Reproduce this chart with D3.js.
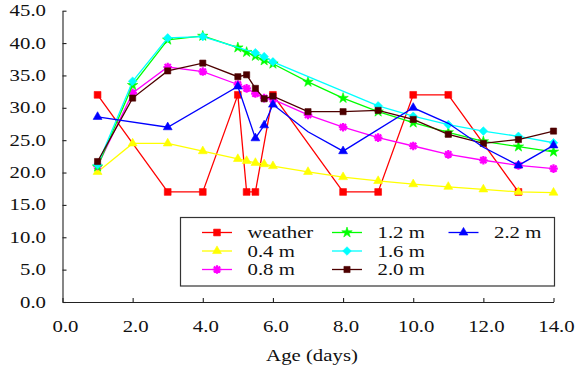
<!DOCTYPE html>
<html><head><meta charset="utf-8">
<script src="https://cdn.jsdelivr.net/npm/d3@7"></script>
<style>html,body{margin:0;padding:0;background:#fff;}svg{display:block;}</style>
</head><body>
<svg id="chart" width="579" height="371"></svg>
<script>
// ---- data ----
const xTicks = [0, 2, 4, 6, 8, 10, 12, 14];
const yTicks = [0, 5, 10, 15, 20, 25, 30, 35, 40, 45];
const xTitle = "Age (days)";
const days = [1, 2, 3, 4, 5, 5.25, 5.5, 5.75, 6, 7, 8, 9, 10, 11, 12, 13, 14];

const weatherX = [1, 3, 4, 5, 5.25, 5.5, 6, 8, 9, 10, 11, 13];
const weatherY = [32, 17, 17, 32, 17, 17, 32, 17, 17, 32, 32, 17];
const m04Y = [20.1, 24.5, 24.5, 23.3, 22.1, 21.8, 21.5, 21.3, 21.0, 20.1, 19.3, 18.7, 18.2, 17.8, 17.4, 17.0, 16.9];
const m08Y = [21.0, 32.3, 36.3, 35.6, 33.6, 33.0, 32.2, 31.5, 31.3, 28.9, 27.0, 25.4, 24.1, 22.8, 21.9, 21.1, 20.6];
const m12Y = [20.9, 33.5, 40.5, 41.1, 39.3, 38.6, 38.0, 37.3, 36.8, 34.0, 31.5, 29.4, 27.7, 26.2, 24.8, 24.0, 23.2];
const m16X = [1, 2, 3, 4, 5.5, 5.75, 6, 9, 10, 11, 12, 13, 14];
const m16Y = [21.2, 34.1, 40.8, 41.0, 38.5, 37.9, 37.1, 30.3, 28.7, 27.4, 26.4, 25.6, 24.6];
const m20Y = [21.7, 31.5, 35.7, 36.9, 34.8, 35.1, 33.0, 31.4, 31.8, 29.4, 29.4, 29.6, 28.2, 25.9, 24.5, 25.1, 26.4];
const m22X = [1, 3, 5, 5.5, 5.75, 6, 7, 8, 10, 11, 12, 13, 14];
const m22Y = [28.6, 27.0, 33.3, 25.3, 27.3, 30.5, 26.3, 23.3, 30.0, 27.6, 23.9, 21.1, 24.2];
const m22NoMarker = [7, 11, 12];

const seriesNames = ["weather", "0.4 m", "0.8 m", "1.2 m", "1.6 m", "2.0 m", "2.2 m"];
const seriesColors = ["#ff0000", "#ffff00", "#ff00ff", "#00ff00", "#00ffff", "#4d0000", "#0000ff"];
const seriesMarkers = ["square", "triangle", "asterisk", "star", "diamond", "squareSmall", "triangle"];

const series = [
  {x: weatherX, y: weatherY, skip: []},
  {x: days, y: m04Y, skip: []},
  {x: days, y: m08Y, skip: []},
  {x: days, y: m12Y, skip: []},
  {x: m16X, y: m16Y, skip: []},
  {x: days, y: m20Y, skip: []},
  {x: m22X, y: m22Y, skip: m22NoMarker}
].map((s, i) => ({
  name: seriesNames[i], color: seriesColors[i], marker: seriesMarkers[i],
  points: s.x.map((d, j) => ({x: d, y: s.y[j], mark: !s.skip.includes(d)}))
}));

// ---- drawing ----
const svg = d3.select("#chart");
const x = d3.scaleLinear().domain([0, 14]).range([62.5, 553.5]);
const y = d3.scaleLinear().domain([0, 45]).range([302, 10.7]);
const FONT = "'Liberation Serif', 'Times New Roman', serif";
const SX = 1.3;

function markerPath(type) {
  switch (type) {
    case "square": return d3.symbol(d3.symbolSquare, 46)();
    case "squareSmall": return d3.symbol(d3.symbolSquare, 38)();
    case "triangle": return d3.symbol(d3.symbolTriangle, 34)();
    case "star": return d3.symbol(d3.symbolStar, 34)();
    case "diamond": { const s = 4.3; return `M0,${-s}L${s},0L0,${s}L${-s},0Z`; }
    case "asterisk": { const r = 4.3, q = r * 0.72;
      return `M0,${-r}L0,${r}M${-r},0L${r},0M${-q},${-q}L${q},${q}M${-q},${q}L${q},${-q}`; }
  }
}
function drawMarker(g, type, color, cx, cy) {
  const p = g.append("path").attr("d", markerPath(type))
    .attr("transform", `translate(${cx},${cy})`);
  if (type === "asterisk") p.attr("fill", "none").attr("stroke", color).attr("stroke-width", 2.2);
  else p.attr("fill", color).attr("stroke", color).attr("stroke-width", 0.6);
}

// axes (lines + inward ticks)
const gx = svg.append("g").attr("transform", `translate(0,${y(0)})`)
  .call(d3.axisBottom(x).tickValues(xTicks).tickSizeInner(-4).tickSizeOuter(0).tickFormat(() => ""));
const gy = svg.append("g").attr("transform", `translate(${x(0)},0)`)
  .call(d3.axisLeft(y).tickValues(yTicks).tickSizeInner(-4).tickSizeOuter(0).tickFormat(() => ""));
[gx, gy].forEach(g => { g.selectAll("path,line").attr("stroke", "#222").attr("stroke-width", 1.1); });

// tick labels
svg.append("g").selectAll("text").data(yTicks).join("text")
  .attr("transform", d => `translate(46,${y(d) + 5.5}) scale(${SX},1)`)
  .attr("text-anchor", "end").attr("font-family", FONT).attr("font-size", 16).attr("fill", "#111")
  .text(d => d.toFixed(1));
svg.append("g").selectAll("text").data(xTicks).join("text")
  .attr("transform", d => `translate(${x(d) + 3},${332}) scale(${SX},1)`)
  .attr("text-anchor", "middle").attr("font-family", FONT).attr("font-size", 16).attr("fill", "#111")
  .text(d => d.toFixed(1));
svg.append("text").attr("transform", `translate(${(x(0) + x(14)) / 2 + 4},361) scale(${SX},1)`)
  .attr("text-anchor", "middle").attr("font-family", FONT).attr("font-size", 16).attr("fill", "#111")
  .text(xTitle);

// series
const line = d3.line().x(d => x(d.x)).y(d => y(d.y));
series.forEach(s => {
  const g = svg.append("g");
  g.append("path").attr("d", line(s.points)).attr("fill", "none")
    .attr("stroke", s.color).attr("stroke-width", 1.3);
  s.points.filter(p => p.mark).forEach(p => drawMarker(g, s.marker, s.color, x(p.x), y(p.y)));
});

// legend
const lg = svg.append("g");
lg.append("rect").attr("x", 180.5).attr("y", 217.5).attr("width", 374).attr("height", 68.5)
  .attr("fill", "#fff").attr("stroke", "#333").attr("stroke-width", 1.2);
const colX = [202, 332, 448.5];
const rowY = [232.5, 251, 269.5];
const legendPos = [[0,0],[0,1],[0,2],[1,0],[1,1],[1,2],[2,0]];
series.forEach((s, i) => {
  const [c, r] = legendPos[i];
  const lx = colX[c], ly = rowY[r];
  lg.append("line").attr("x1", lx).attr("x2", lx + 30).attr("y1", ly).attr("y2", ly)
    .attr("stroke", s.color).attr("stroke-width", 1.3);
  drawMarker(lg, s.marker, s.color, lx + 15, ly);
  lg.append("text").attr("transform", `translate(${lx + 45.5},${ly + 5.5}) scale(${SX},1)`)
    .attr("font-family", FONT).attr("font-size", 16).attr("fill", "#111").text(s.name);
});
</script>
</body></html>
